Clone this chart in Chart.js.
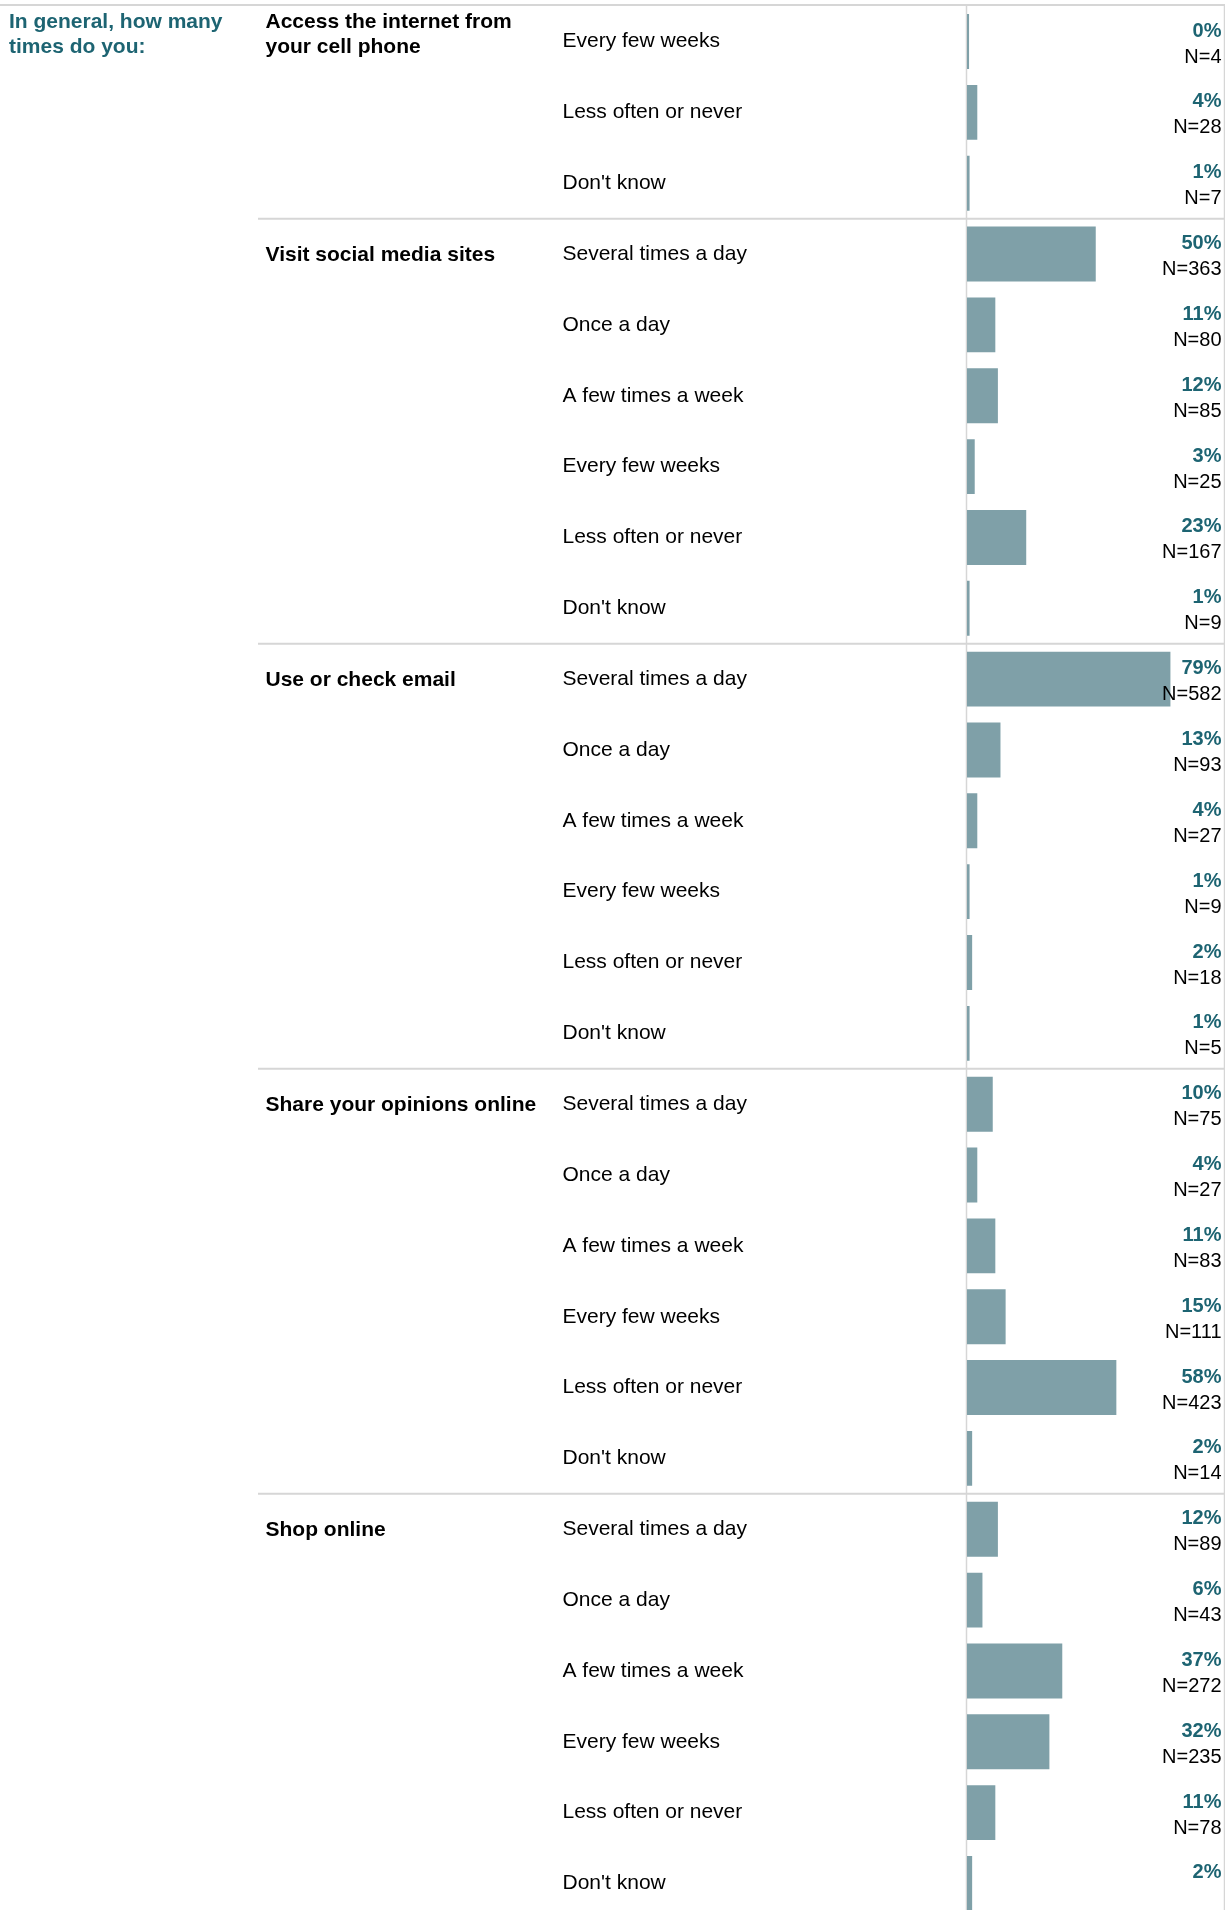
<!DOCTYPE html>
<html><head><meta charset="utf-8">
<script src="https://cdn.jsdelivr.net/npm/chart.js@4"></script>
<style>
html,body{margin:0;padding:0;background:#fff;overflow:hidden;}
#wrap{width:1225px;height:1910px;overflow:hidden;position:relative;background:#fff;}
canvas{display:block;}
</style></head><body>
<div id="wrap"><canvas id="c" width="1225" height="1920"></canvas></div>
<script>
// ---- data ----
const questionTitle = ["In general, how many", "times do you:"];
const sectionNames = [
  ["Access the internet from", "your cell phone"],
  ["Visit social media sites"],
  ["Use or check email"],
  ["Share your opinions online"],
  ["Shop online"]
];
const sectionRowCounts = [3, 6, 6, 6, 6];
const responses = [
  "Every few weeks", "Less often or never", "Don't know",
  "Several times a day", "Once a day", "A few times a week", "Every few weeks", "Less often or never", "Don't know",
  "Several times a day", "Once a day", "A few times a week", "Every few weeks", "Less often or never", "Don't know",
  "Several times a day", "Once a day", "A few times a week", "Every few weeks", "Less often or never", "Don't know",
  "Several times a day", "Once a day", "A few times a week", "Every few weeks", "Less often or never", "Don't know"
];
const barValues = [
  0.8, 4, 1,
  50, 11, 12, 3, 23, 1,
  79, 13, 4, 1, 2, 1,
  10, 4, 11, 15, 58, 2,
  12, 6, 37, 32, 11, 2
];
const pctText = [
  "0%", "4%", "1%",
  "50%", "11%", "12%", "3%", "23%", "1%",
  "79%", "13%", "4%", "1%", "2%", "1%",
  "10%", "4%", "11%", "15%", "58%", "2%",
  "12%", "6%", "37%", "32%", "11%", "2%"
];
const counts = [
  4, 28, 7,
  363, 80, 85, 25, 167, 9,
  582, 93, 27, 9, 18, 5,
  75, 27, 83, 111, 423, 14,
  89, 43, 272, 235, 78, null
];

// ---- style ----
const FONT = '"Liberation Sans", Arial, Helvetica, sans-serif';
const TEAL = '#1d6472';
const BAR = '#7fa0a8';
const LINE = '#d6d6d6';

const overlay = {
  id: 'overlay',
  beforeDatasetsDraw(chart) {
    const {ctx, chartArea: a, scales: {x, y}} = chart;
    const band = y.getPixelForValue(1) - y.getPixelForValue(0);
    ctx.save();
    ctx.strokeStyle = LINE;
    ctx.lineWidth = 2;
    const top0 = y.getPixelForValue(0) - band / 2;
    ctx.beginPath(); ctx.moveTo(0, top0 - 1); ctx.lineTo(chart.width, top0 - 1); ctx.stroke();
    let r = 0;
    sectionRowCounts.forEach((n, s) => {
      if (s > 0) {
        const yy = y.getPixelForValue(r) - band / 2;
        ctx.beginPath(); ctx.moveTo(258, yy); ctx.lineTo(chart.width, yy); ctx.stroke();
      }
      r += n;
    });
    ctx.lineWidth = 1.5;
    const x0 = x.getPixelForValue(0) - 0.5;
    ctx.beginPath(); ctx.moveTo(x0, top0 - 2); ctx.lineTo(x0, chart.height); ctx.stroke();
    const xr = a.right;
    ctx.beginPath(); ctx.moveTo(xr, top0 - 2); ctx.lineTo(xr, chart.height); ctx.stroke();
    ctx.restore();
  },
  afterDatasetsDraw(chart) {
    const {ctx, chartArea: a, scales: {y}} = chart;
    ctx.save();
    // question title
    ctx.textAlign = 'left';
    ctx.textBaseline = 'alphabetic';
    ctx.font = 'bold 21px ' + FONT;
    ctx.fillStyle = TEAL;
    questionTitle.forEach((t, i) => ctx.fillText(t, 9, a.top + 21.5 + i * 25.6));
    // section names
    ctx.fillStyle = '#000';
    let r = 0;
    sectionNames.forEach((lines, s) => {
      if (s === 0) {
        lines.forEach((t, i) => ctx.fillText(t, 265.5, a.top + 21.5 + i * 25.6));
      } else {
        const yc = y.getPixelForValue(r);
        lines.forEach((t, i) => ctx.fillText(t, 265.5, yc + 7 + i * 25.6));
      }
      r += sectionRowCounts[s];
    });
    // value labels
    ctx.textAlign = 'right';
    const xr = 1221.5;
    pctText.forEach((t, i) => {
      const yc = y.getPixelForValue(i);
      ctx.font = 'bold 20px ' + FONT;
      ctx.fillStyle = TEAL;
      ctx.fillText(t, xr, yc - 5);
      if (counts[i] !== null) {
        ctx.font = '20px ' + FONT;
        ctx.fillStyle = '#000';
        ctx.fillText('N=' + counts[i], xr, yc + 21);
      }
    });
    ctx.restore();
  }
};

new Chart(document.getElementById('c'), {
  type: 'bar',
  data: {
    labels: responses,
    datasets: [{
      data: barValues,
      backgroundColor: BAR,
      borderWidth: 0,
      barPercentage: 0.775,
      categoryPercentage: 1
    }]
  },
  options: {
    indexAxis: 'y',
    responsive: false,
    animation: false,
    devicePixelRatio: 1,
    layout: {padding: {left: 562.5, right: 0.5, top: 6.1, bottom: 1.1}},
    plugins: {legend: {display: false}, tooltip: {enabled: false}},
    events: [],
    scales: {
      x: {display: false, min: 0, max: 100},
      y: {
        type: 'category',
        offset: true,
        grid: {display: false},
        border: {display: false},
        ticks: {
          autoSkip: false,
          crossAlign: 'far',
          padding: 0,
          color: '#000',
          font: {family: FONT, size: 21}
        },
        afterFit(scale) {
          scale.width = 967 - 562.5;
          scale.paddingTop = 0;
          scale.paddingBottom = 0;
        }
      }
    }
  },
  plugins: [overlay]
});
</script>
</body></html>
